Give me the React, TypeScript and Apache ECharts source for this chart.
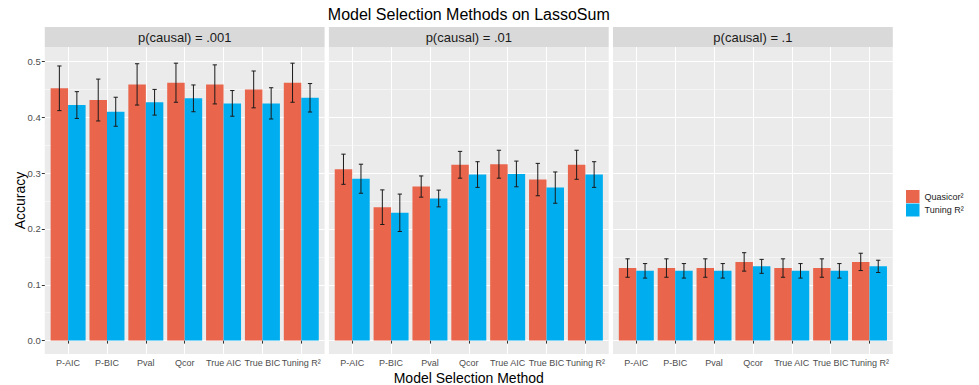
import React, { useEffect, useRef } from 'react';
import * as echarts from 'echarts';

const CATEGORIES = ['P-AIC', 'P-BIC', 'Pval', 'Qcor', 'True AIC', 'True BIC', 'Tuning R²'];
const PANEL_LABELS = ['p(causal) = .001', 'p(causal) = .01', 'p(causal) = .1'];
const SERIES_NAMES = ['Quasicor²', 'Tuning R²'];
const Y_TICKS = [0, 0.1, 0.2, 0.3, 0.4, 0.5];
const Y_MINOR = [0.05, 0.15, 0.25, 0.35, 0.45];
const X_TICKS = [1, 2, 3, 4, 5, 6, 7];

// p(causal) = .001
const QUASICOR_P001 = [0.452, 0.431, 0.459, 0.462, 0.459, 0.45, 0.462];
const QUASICOR_P001_ERR = [0.04, 0.0375, 0.037, 0.035, 0.035, 0.033, 0.035];
const TUNING_P001 = [0.422, 0.41, 0.427, 0.434, 0.425, 0.425, 0.435];
const TUNING_P001_ERR = [0.024, 0.026, 0.023, 0.024, 0.023, 0.028, 0.0255];
// p(causal) = .01
const QUASICOR_P01 = [0.307, 0.239, 0.276, 0.315, 0.316, 0.2885, 0.315];
const QUASICOR_P01_ERR = [0.027, 0.031, 0.019, 0.024, 0.025, 0.029, 0.026];
const TUNING_P01 = [0.29, 0.229, 0.2546, 0.2975, 0.2986, 0.2741, 0.2975];
const TUNING_P01_ERR = [0.026, 0.0335, 0.015, 0.023, 0.023, 0.028, 0.023];
// p(causal) = .1
const QUASICOR_P1 = [0.13, 0.13, 0.13, 0.141, 0.13, 0.13, 0.141];
const QUASICOR_P1_ERR = [0.0165, 0.0165, 0.0165, 0.0165, 0.0165, 0.0165, 0.0155];
const TUNING_P1 = [0.125, 0.125, 0.125, 0.133, 0.125, 0.125, 0.133];
const TUNING_P1_ERR = [0.013, 0.013, 0.013, 0.0125, 0.013, 0.013, 0.011];

const PANEL_DATA = [
  [QUASICOR_P001, QUASICOR_P001_ERR, TUNING_P001, TUNING_P001_ERR],
  [QUASICOR_P01, QUASICOR_P01_ERR, TUNING_P01, TUNING_P01_ERR],
  [QUASICOR_P1, QUASICOR_P1_ERR, TUNING_P1, TUNING_P1_ERR],
];

const COLORS = ['#E9654C', '#00AEEF'];
const FONT = 'Liberation Sans, Arial, sans-serif';

const PANEL_LEFT0 = 44.8;
const PANEL_STEP = 284.1;
const PANEL_W = 279.8;
const PANEL_TOP = 47;
const PANEL_H = 307;
const STRIP_TOP = 27;
const STRIP_H = 20;
const X_MIN = 0.4;
const X_MAX = 7.6;
const Y_MIN = -0.024;
const Y_MAX = 0.526;

function makeErrorSeries(means: number[], errs: number[], offset: number, panel: number) {
  return {
    type: 'custom',
    xAxisIndex: panel,
    yAxisIndex: panel * 2,
    z: 5,
    silent: true,
    data: means.map((m, i) => [X_TICKS[i], m, errs[i]]),
    encode: { x: 0, y: 1 },
    renderItem: (params: any, api: any) => {
      const x = api.value(0) + offset;
      const m = api.value(1);
      const e = api.value(2);
      const top = api.coord([x, m + e]);
      const bot = api.coord([x, m - e]);
      const l = api.coord([x - 0.055, m]);
      const r = api.coord([x + 0.055, m]);
      const style = { stroke: '#1a1a1a', lineWidth: 1 };
      return {
        type: 'group',
        children: [
          { type: 'line', shape: { x1: top[0], y1: top[1], x2: bot[0], y2: bot[1] }, style },
          { type: 'line', shape: { x1: l[0], y1: top[1], x2: r[0], y2: top[1] }, style },
          { type: 'line', shape: { x1: l[0], y1: bot[1], x2: r[0], y2: bot[1] }, style },
        ],
      };
    },
  };
}

export default function App() {
  const ref = useRef<HTMLDivElement>(null);

  useEffect(() => {
    if (!ref.current) return;
    const chart = echarts.init(ref.current, undefined, { renderer: 'svg' });
    const unit = PANEL_W / (X_MAX - X_MIN);
    const barW = 0.45 * unit;

    const grids: any[] = [];
    const xAxes: any[] = [];
    const yAxes: any[] = [];
    const series: any[] = [];
    const graphics: any[] = [];

    for (let p = 0; p < 3; p++) {
      const left = PANEL_LEFT0 + p * PANEL_STEP;
      grids.push({
        left,
        top: PANEL_TOP,
        width: PANEL_W,
        height: PANEL_H,
        show: true,
        backgroundColor: '#EBEBEB',
        borderWidth: 0,
      });
      xAxes.push({
        type: 'value',
        gridIndex: p,
        min: X_MIN,
        max: X_MAX,
        axisLine: { show: false },
        axisTick: {
          show: true,
          length: 3,
          customValues: X_TICKS,
          lineStyle: { color: '#333333', width: 1 },
        },
        axisLabel: {
          show: true,
          customValues: X_TICKS,
          hideOverlap: false,
          formatter: (v: number) => CATEGORIES[Math.round(v) - 1] ?? '',
          color: '#4D4D4D',
          fontSize: 9,
          fontFamily: FONT,
          margin: 4,
        },
        splitLine: { show: true, lineStyle: { color: '#FFFFFF', width: 1 } },
      });
      yAxes.push({
        type: 'value',
        gridIndex: p,
        min: Y_MIN,
        max: Y_MAX,
        axisLine: { show: false },
        axisTick: {
          show: p === 0,
          length: 3,
          customValues: Y_TICKS,
          lineStyle: { color: '#333333', width: 1 },
        },
        axisLabel: {
          show: p === 0,
          customValues: Y_TICKS,
          formatter: (v: number) => v.toFixed(1),
          color: '#4D4D4D',
          fontSize: 9.5,
          fontFamily: FONT,
          margin: 4,
        },
        splitLine: { show: true, lineStyle: { color: '#FFFFFF', width: 1 } },
      });
      yAxes.push({
        type: 'value',
        gridIndex: p,
        position: 'left',
        min: Y_MIN,
        max: Y_MAX,
        axisLine: { show: false },
        axisTick: { show: false, customValues: Y_MINOR },
        axisLabel: { show: false, customValues: Y_MINOR },
        splitLine: { show: true, lineStyle: { color: '#FFFFFF', width: 0.5 } },
      });

      const [qm, qe, tm, te] = PANEL_DATA[p];
      series.push({
        name: SERIES_NAMES[0],
        type: 'bar',
        xAxisIndex: p,
        yAxisIndex: p * 2,
        barWidth: barW,
        barGap: '0%',
        z: 3,
        itemStyle: { color: COLORS[0] },
        data: qm.map((v, i) => [X_TICKS[i], v]),
      });
      series.push({
        name: SERIES_NAMES[1],
        type: 'bar',
        xAxisIndex: p,
        yAxisIndex: p * 2,
        barWidth: barW,
        barGap: '0%',
        z: 3,
        itemStyle: { color: COLORS[1] },
        data: tm.map((v, i) => [X_TICKS[i], v]),
      });
      series.push(makeErrorSeries(qm, qe, -0.225, p));
      series.push(makeErrorSeries(tm, te, 0.225, p));

      graphics.push({
        type: 'rect',
        shape: { x: left, y: STRIP_TOP, width: PANEL_W, height: STRIP_H },
        style: { fill: '#D9D9D9' },
        silent: true,
      });
      graphics.push({
        type: 'text',
        x: left + PANEL_W / 2,
        y: STRIP_TOP + STRIP_H / 2 + 0.5,
        style: {
          text: PANEL_LABELS[p],
          fill: '#1A1A1A',
          font: `13px ${FONT}`,
          textAlign: 'center',
          textVerticalAlign: 'middle',
        },
        silent: true,
      });
    }

    const panelsCenter = PANEL_LEFT0 + (2 * PANEL_STEP + PANEL_W) / 2;
    graphics.push({
      type: 'text',
      x: panelsCenter,
      y: 14,
      style: {
        text: 'Model Selection Methods on LassoSum',
        fill: '#000000',
        font: `16px ${FONT}`,
        textAlign: 'center',
        textVerticalAlign: 'middle',
      },
      silent: true,
    });
    graphics.push({
      type: 'text',
      x: panelsCenter,
      y: 378,
      style: {
        text: 'Model Selection Method',
        fill: '#000000',
        font: `14px ${FONT}`,
        textAlign: 'center',
        textVerticalAlign: 'middle',
      },
      silent: true,
    });
    graphics.push({
      type: 'text',
      x: 20,
      y: PANEL_TOP + PANEL_H / 2,
      rotation: Math.PI / 2,
      style: {
        text: 'Accuracy',
        fill: '#000000',
        font: `14px ${FONT}`,
        textAlign: 'center',
        textVerticalAlign: 'middle',
      },
      silent: true,
    });

    chart.setOption({
      animation: false,
      backgroundColor: '#FFFFFF',
      grid: grids,
      xAxis: xAxes,
      yAxis: yAxes,
      series,
      legend: {
        data: SERIES_NAMES,
        orient: 'vertical',
        left: 906,
        top: 190,
        padding: 0,
        itemWidth: 13.5,
        itemHeight: 13,
        itemGap: 0.5,
        icon: 'rect',
        selectedMode: false,
        textStyle: { fontSize: 9, color: '#1A1A1A', fontFamily: FONT },
      },
      graphic: graphics,
    });

    return () => chart.dispose();
  }, []);

  return (
    <div
      ref={ref}
      style={{ position: 'fixed', left: 0, top: 0, width: 979, height: 385, background: '#fff' }}
    />
  );
}
